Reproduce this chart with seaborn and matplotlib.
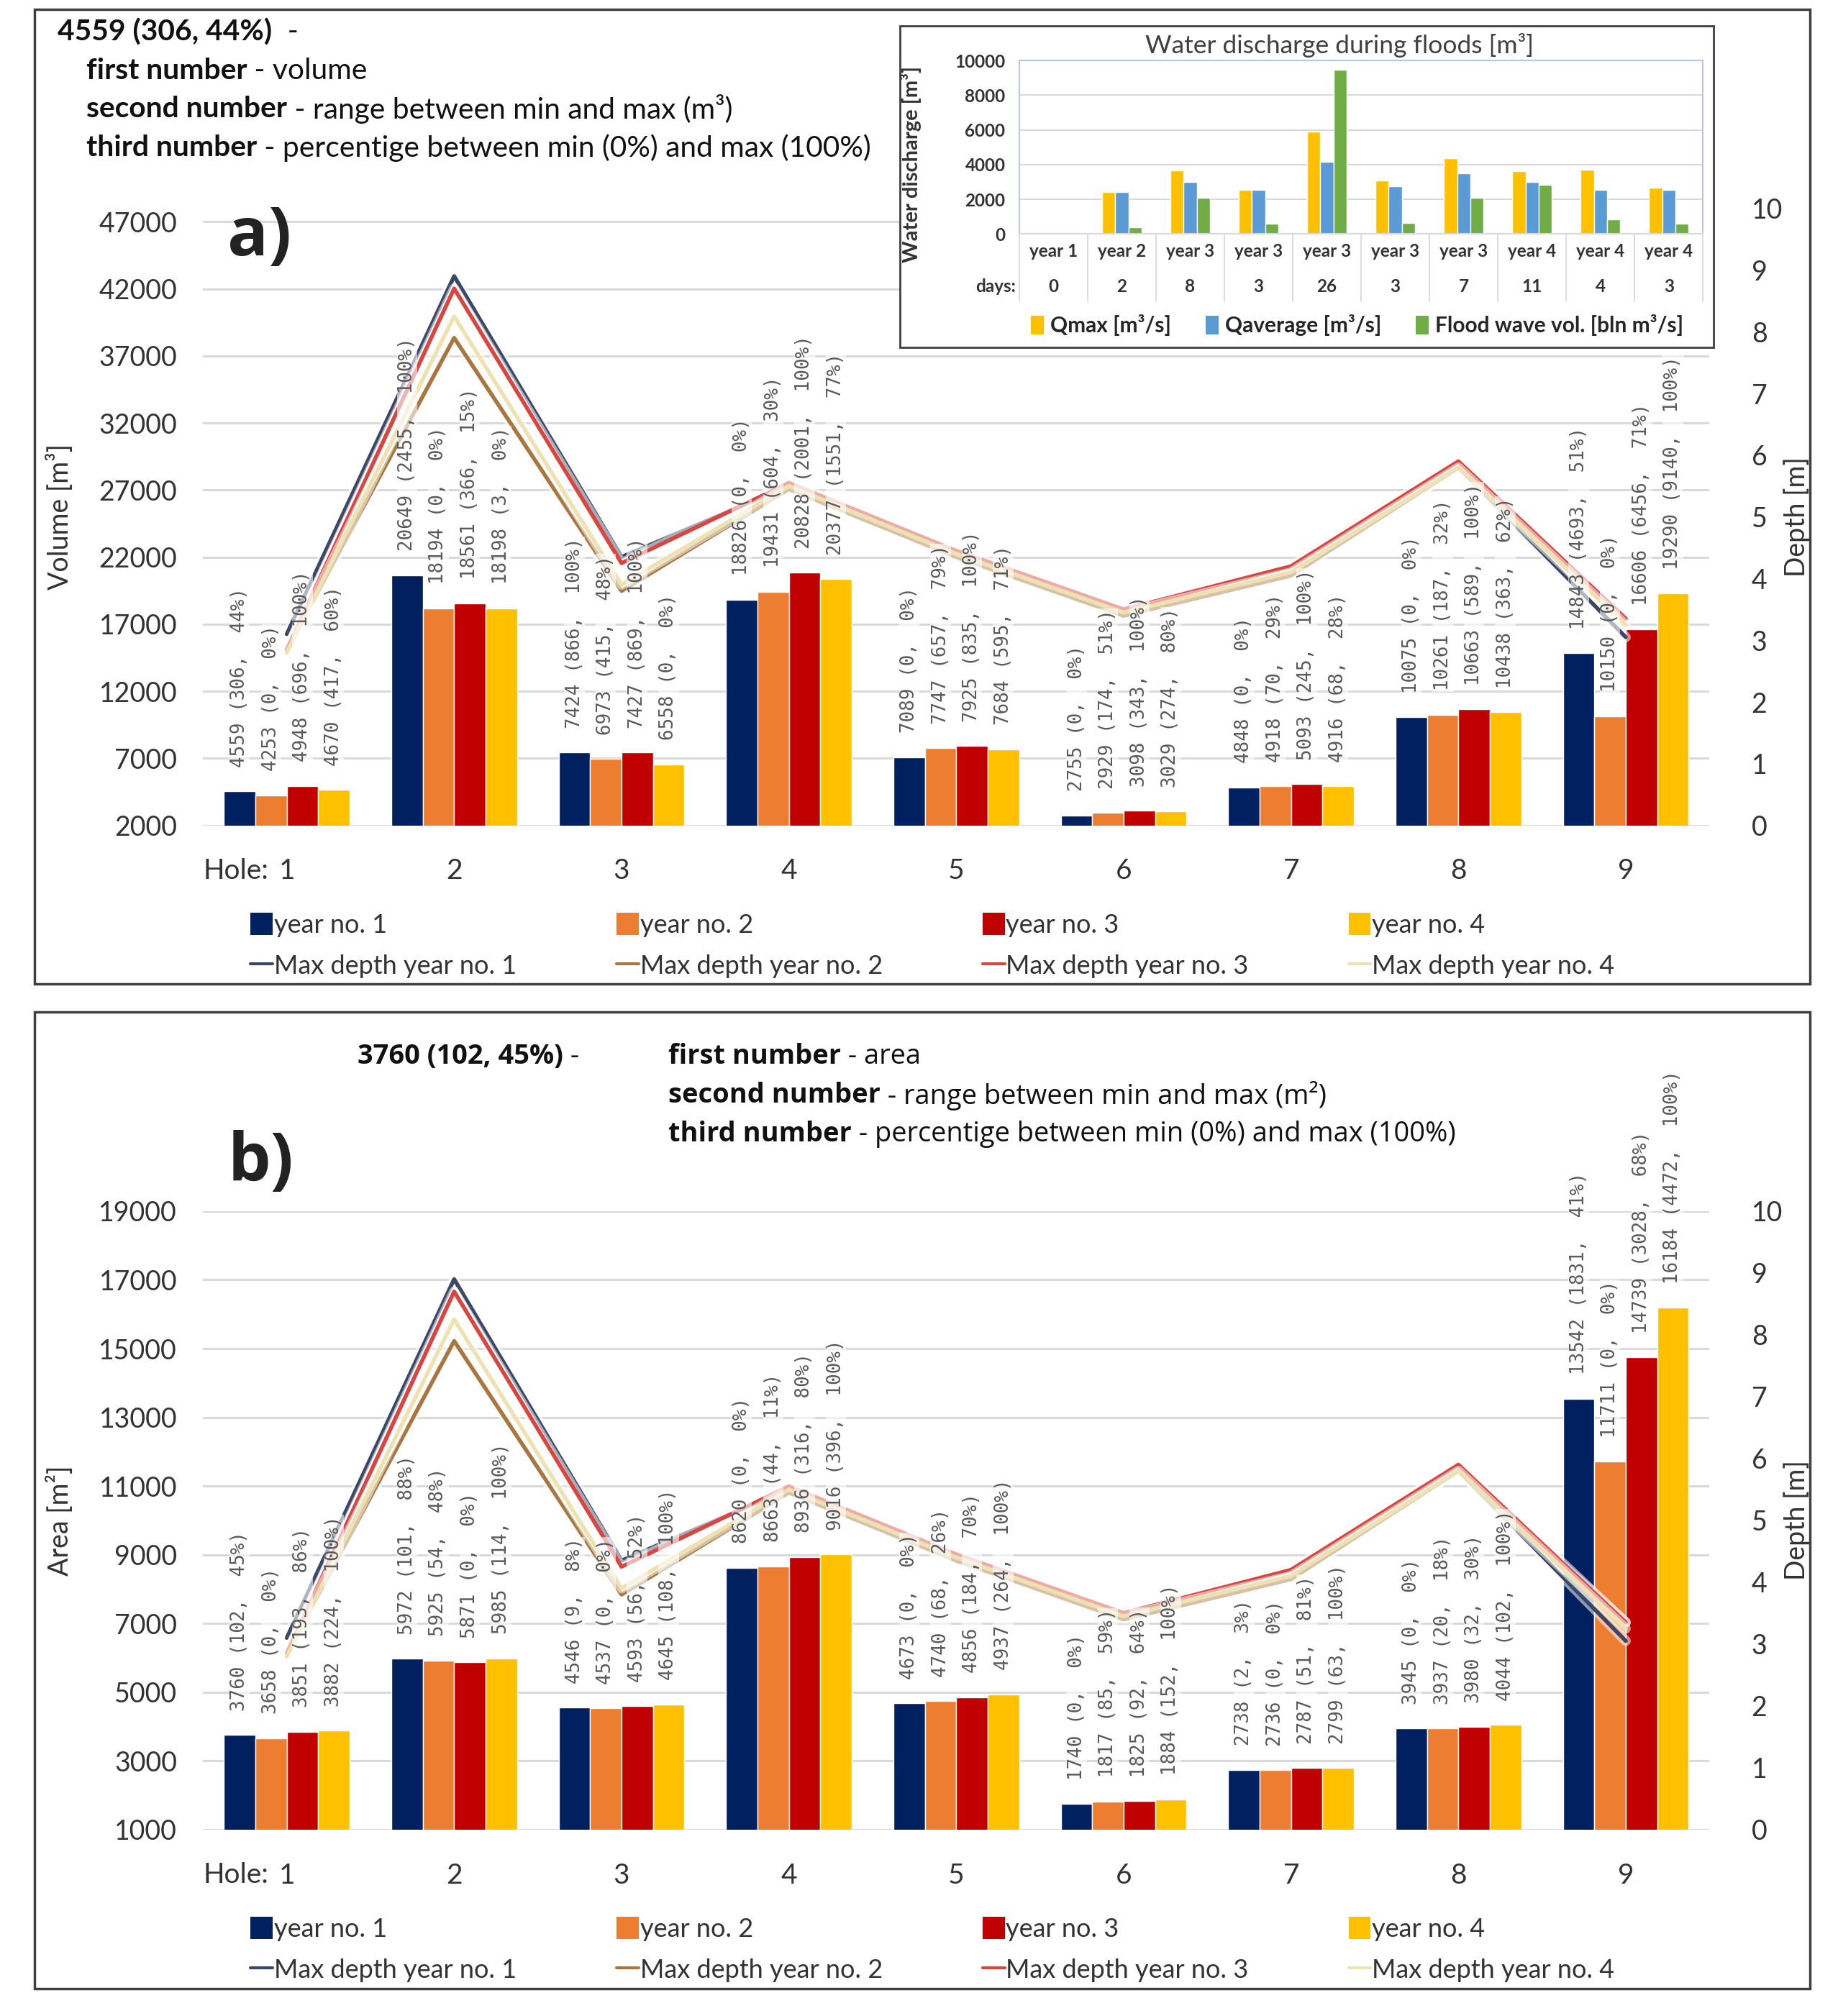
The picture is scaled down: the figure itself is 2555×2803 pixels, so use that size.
import numpy as np
import pandas as pd
import matplotlib
matplotlib.use("Agg")
import matplotlib.pyplot as plt
import matplotlib.patheffects as pe
import matplotlib.transforms as mtransforms
from matplotlib.patches import Rectangle, Patch
from matplotlib.lines import Line2D
import seaborn as sns

# ---------------- data ----------------
holes = ["1", "2", "3", "4", "5", "6", "7", "8", "9"]
years = ["year no. 1", "year no. 2", "year no. 3", "year no. 4"]
depth_names = ["Max depth year no. 1", "Max depth year no. 2",
               "Max depth year no. 3", "Max depth year no. 4"]

vol_y1 = [4559, 20649, 7424, 18826, 7089, 2755, 4848, 10075, 14843]
vol_y2 = [4253, 18194, 6973, 19431, 7747, 2929, 4918, 10261, 10150]
vol_y3 = [4948, 18561, 7427, 20828, 7925, 3098, 5093, 10663, 16606]
vol_y4 = [4670, 18198, 6558, 20377, 7684, 3029, 4916, 10438, 19290]

vol_lab_y1 = ["4559 (306,  44%)", "20649 (2455,  100%)", "7424 (866,  100%)", "18826 (0,  0%)",
              "7089 (0,  0%)", "2755 (0,  0%)", "4848 (0,  0%)", "10075 (0,  0%)", "14843 (4693,  51%)"]
vol_lab_y2 = ["4253 (0,  0%)", "18194 (0,  0%)", "6973 (415,  48%)", "19431 (604,  30%)",
              "7747 (657,  79%)", "2929 (174,  51%)", "4918 (70,  29%)", "10261 (187,  32%)", "10150 (0,  0%)"]
vol_lab_y3 = ["4948 (696,  100%)", "18561 (366,  15%)", "7427 (869,  100%)", "20828 (2001,  100%)",
              "7925 (835,  100%)", "3098 (343,  100%)", "5093 (245,  100%)", "10663 (589,  100%)", "16606 (6456,  71%)"]
vol_lab_y4 = ["4670 (417,  60%)", "18198 (3,  0%)", "6558 (0,  0%)", "20377 (1551,  77%)",
              "7684 (595,  71%)", "3029 (274,  80%)", "4916 (68,  28%)", "10438 (363,  62%)", "19290 (9140,  100%)"]

area_y1 = [3760, 5972, 4546, 8620, 4673, 1740, 2738, 3945, 13542]
area_y2 = [3658, 5925, 4537, 8663, 4740, 1817, 2736, 3937, 11711]
area_y3 = [3851, 5871, 4593, 8936, 4856, 1825, 2787, 3980, 14739]
area_y4 = [3882, 5985, 4645, 9016, 4937, 1884, 2799, 4044, 16184]

area_lab_y1 = ["3760 (102,  45%)", "5972 (101,  88%)", "4546 (9,  8%)", "8620 (0,  0%)",
               "4673 (0,  0%)", "1740 (0,  0%)", "2738 (2,  3%)", "3945 (0,  0%)", "13542 (1831,  41%)"]
area_lab_y2 = ["3658 (0,  0%)", "5925 (54,  48%)", "4537 (0,  0%)", "8663 (44,  11%)",
               "4740 (68,  26%)", "1817 (85,  59%)", "2736 (0,  0%)", "3937 (20,  18%)", "11711 (0,  0%)"]
area_lab_y3 = ["3851 (193,  86%)", "5871 (0,  0%)", "4593 (56,  52%)", "8936 (316,  80%)",
               "4856 (184,  70%)", "1825 (92,  64%)", "2787 (51,  81%)", "3980 (32,  30%)", "14739 (3028,  68%)"]
area_lab_y4 = ["3882 (224,  100%)", "5985 (114,  100%)", "4645 (108,  100%)", "9016 (396,  100%)",
               "4937 (264,  100%)", "1884 (152,  100%)", "2799 (63,  100%)", "4044 (102,  100%)", "16184 (4472,  100%)"]

depth_y1 = [3.1, 8.9, 4.35, 5.5, 4.4, 3.45, 4.1, 5.8, 3.05]
depth_y2 = [2.85, 7.9, 3.8, 5.45, 4.35, 3.4, 4.05, 5.8, 3.35]
depth_y3 = [2.85, 8.7, 4.25, 5.55, 4.45, 3.5, 4.2, 5.9, 3.35]
depth_y4 = [2.8, 8.25, 3.9, 5.5, 4.4, 3.45, 4.1, 5.8, 3.25]

vol_ticks = [2000, 7000, 12000, 17000, 22000, 27000, 32000, 37000, 42000, 47000]
area_ticks = [1000, 3000, 5000, 7000, 9000, 11000, 13000, 15000, 17000, 19000]
depth_ticks = [0, 1, 2, 3, 4, 5, 6, 7, 8, 9, 10]

# inset
flood_years = ["year 1", "year 2", "year 3", "year 3", "year 3", "year 3", "year 3", "year 4", "year 4", "year 4"]
flood_days = ["0", "2", "8", "3", "26", "3", "7", "11", "4", "3"]
qmax = [0, 2400, 3650, 2550, 5900, 3100, 4350, 3600, 3700, 2650]
qavg = [0, 2400, 3000, 2550, 4150, 2750, 3500, 3000, 2550, 2550]
flood_vol = [0, 400, 2100, 600, 9450, 650, 2100, 2850, 850, 600]
flood_series = ["Qmax [m³/s]", "Qaverage [m³/s]", "Flood wave vol. [bln m³/s]"]
inset_ticks = [0, 2000, 4000, 6000, 8000, 10000]

bar_colors = ["#002060", "#ED7D31", "#C00000", "#FFC000"]
line_colors = ["#3A4766", "#A8763E", "#D9463F", "#EEE2B2"]
inset_colors = ["#FFC000", "#5B9BD5", "#70AD47"]

# ---------------- style ----------------
sns.set_style("white")
plt.rcParams["font.family"] = ["Lato", "DejaVu Sans"]
TXT = "#333333"

W, H = 2555, 2803
fig = plt.figure(figsize=(W / 100, H / 100), dpi=100)
DW, DH = 1430.0, 1568.0  # reading grid


def fx(x):
    return x / DW


def fy(y):
    return 1 - y / DH


def panel(rect, vals, labs, ylim, yticks, ylabel):
    ax = fig.add_axes(rect)
    df = pd.DataFrame({
        "hole": np.repeat([holes], 4, axis=0).ravel(),
        "year": np.repeat(years, len(holes)),
        "value": np.concatenate(vals),
    })
    sns.barplot(data=df, x="hole", y="value", hue="year", order=holes, hue_order=years,
                palette=bar_colors, width=0.75, errorbar=None, saturation=1,
                legend=False, ax=ax, zorder=2)
    ax.set_ylim(*ylim)
    ax.set_yticks(yticks)
    ax.set_yticklabels([str(t) for t in yticks])
    ax.yaxis.grid(True, color="#D9D9D9", lw=2.2, zorder=0)
    ax.set_axisbelow(True)
    for s in ax.spines.values():
        s.set_visible(False)
    ax.tick_params(axis="y", length=0, pad=26, labelsize=27, labelcolor=TXT)
    ax.tick_params(axis="x", length=0, pad=33, labelsize=28, labelcolor=TXT)
    ax.set_xlabel("")
    ax.set_ylabel(ylabel, fontsize=27, color=TXT)
    ax.yaxis.set_label_coords(-0.086, 0.5)
    ax.text(-0.5, -0.074, "Hole:", transform=mtransforms.blended_transform_factory(ax.transData, ax.transAxes),
            ha="left", va="center", fontsize=28, color=TXT)

    ax2 = ax.twinx()
    ddf = pd.DataFrame({
        "pos": np.tile(np.arange(len(holes)), 4),
        "series": np.repeat(depth_names, len(holes)),
        "depth": np.concatenate([depth_y1, depth_y2, depth_y3, depth_y4]),
    })
    sns.lineplot(data=ddf, x="pos", y="depth", hue="series", hue_order=depth_names,
                 palette=line_colors, lw=4.0, sort=False, estimator=None, legend=False, ax=ax2)
    for ln in ax2.lines:
        ln.set_path_effects([pe.Stroke(linewidth=10, foreground="white", alpha=0.55), pe.Normal()])
    ax2.set_ylim(0, 10)
    ax2.set_yticks(depth_ticks)
    ax2.set_yticklabels([str(t) for t in depth_ticks])
    ax2.tick_params(axis="y", length=0, pad=42, labelsize=27, labelcolor=TXT)
    ax2.set_ylabel("Depth [m]", fontsize=27, color=TXT)
    ax2.yaxis.set_label_coords(1.049, 0.5)
    ax2.set_xlabel("")
    for s in ax2.spines.values():
        s.set_visible(False)
    ax2.grid(False)
    ax.set_xlim(-0.5, len(holes) - 0.5)

    # data labels on top layer
    for cont, lab in zip(ax.containers, labs):
        for rect_, t in zip(cont.patches, lab):
            x = rect_.get_x() + rect_.get_width() / 2
            y = rect_.get_y() + rect_.get_height()
            ax2.annotate(t, xy=(x, y), xycoords=ax.transData, xytext=(0, 24),
                         textcoords="offset points", rotation=90, ha="center", va="bottom",
                         fontsize=18.6, color="#5A5A5A", family="DejaVu Sans Mono",
                         bbox=dict(boxstyle="square,pad=0.05", fc="white", ec="none", alpha=0.6),
                         zorder=5)
    return ax, ax2


def legend_main(ybase):
    handles = []
    labels = []
    for c, lc, y, d in zip(bar_colors, line_colors, years, depth_names):
        handles += [Patch(facecolor=c, edgecolor="none"), Line2D([0], [0], color=lc, lw=3)]
        labels += [y, d]
    leg = fig.legend(handles, labels, ncol=4, loc="upper left",
                     bbox_to_anchor=(fx(195), fy(ybase)), frameon=False, fontsize=26,
                     handlelength=0.85, handleheight=0.95, handletextpad=0.05,
                     columnspacing=3.85, labelspacing=0.62, borderaxespad=0, borderpad=0)
    for t in leg.get_texts():
        t.set_color(TXT)
    return leg


def header(x, y, bold, rest, size, family):
    t = fig.text(fx(x), fy(y), bold, fontsize=size, fontweight="bold", ha="left", va="center",
                 family=family, color="#111111")
    if rest:
        fig.add_artist(matplotlib.text.Annotation(rest, xy=(1, 0.5), xycoords=t, xytext=(0, 0),
                                                  textcoords="offset points", ha="left", va="center",
                                                  fontsize=size, family=family, color="#111111"))
    return t


# panel frames
for (x0, y0, x1, y1) in [(27, 7, 1408, 765), (27, 787, 1408, 1547)]:
    fig.patches.append(Rectangle((fx(x0), fy(y1)), fx(x1 - x0), (y1 - y0) / DH,
                                 transform=fig.transFigure, fill=False, ec="#3F3F3F", lw=2.5, zorder=6))

# ---------------- panel a ----------------
rect_a = [fx(158), fy(642), fx(1330 - 158), (642 - 162) / DH]
ax_a, ax_a2 = panel(rect_a, [vol_y1, vol_y2, vol_y3, vol_y4],
                    [vol_lab_y1, vol_lab_y2, vol_lab_y3, vol_lab_y4],
                    (2000, 48000), vol_ticks, "Volume [m³]")
legend_main(710)
fig.text(fx(177), fy(185), "a)", fontsize=68, fontweight="bold", ha="left", va="center",
         family="Open Sans", color="#222222")
header(45, 25, "4559 (306, 44%)", "  -", 29.3, "Lato")
header(67, 55, "first number", " - volume", 29.3, "Lato")
header(67, 85, "second number", " - range between min and max (m³)", 29.3, "Lato")
header(67, 115, "third number", " - percentige between min (0%) and max (100%)", 29.3, "Lato")

# ---------------- inset ----------------
fig.patches.append(Rectangle((fx(700), fy(270)), fx(633), 250 / DH, transform=fig.transFigure,
                             fc="white", ec="#3F3F3F", lw=2, zorder=2))
axi = fig.add_axes([fx(793), fy(182), fx(1325 - 793), (182 - 47) / DH], zorder=3)
idf = pd.DataFrame({
    "cat": np.tile(np.arange(len(flood_years)), 3),
    "series": np.repeat(flood_series, len(flood_years)),
    "value": np.concatenate([qmax, qavg, flood_vol]),
})
sns.barplot(data=idf, x="cat", y="value", hue="series", hue_order=flood_series,
            palette=inset_colors, width=0.58, errorbar=None, saturation=1, legend=False, ax=axi)
axi.set_xlim(-0.5, len(flood_years) - 0.5)
axi.set_ylim(0, 10000)
axi.set_yticks(inset_ticks)
axi.set_yticklabels([str(t) for t in inset_ticks], fontweight="bold")
axi.set_xticks(range(len(flood_years)))
axi.set_xticklabels(flood_years, fontweight="bold")
axi.tick_params(axis="both", length=0, labelsize=17.5, labelcolor=TXT)
axi.tick_params(axis="x", pad=9)
axi.tick_params(axis="y", pad=14)
axi.yaxis.grid(True, color="#D9D9D9", lw=1.5)
axi.set_axisbelow(True)
for s in axi.spines.values():
    s.set_color("#B4C7E7")
    s.set_linewidth(1.5)
axi.spines["bottom"].set_color("#D9D9D9")
axi.set_xlabel("")
axi.set_ylabel("Water discharge [m³]", fontsize=21, fontweight="bold", color=TXT)
axi.yaxis.set_label_coords(-0.143, 0.40)
bt = mtransforms.blended_transform_factory(axi.transData, axi.transAxes)
for i, d in enumerate(flood_days):
    axi.text(i, -0.305, d, transform=bt, ha="center", va="center", fontsize=17.5,
             fontweight="bold", color=TXT)
axi.text(-0.55, -0.305, "days:", transform=bt, ha="right", va="center", fontsize=17.5,
         fontweight="bold", color=TXT)
for i in range(len(flood_years) + 1):
    axi.plot([i - 0.5, i - 0.5], [0, -0.39], transform=bt, color="#D9D9D9", lw=1.3, clip_on=False)
fig.text(fx(1042), fy(35), "Water discharge during floods [m³]", fontsize=25.5, ha="center",
         va="center", color="#404040", zorder=4)
ih = [Patch(facecolor=c, edgecolor="none") for c in inset_colors]
ileg = fig.legend(ih, flood_series, ncol=3, loc="center", bbox_to_anchor=(fx(1056), fy(253)),
                  frameon=False, prop=dict(size=21.5, weight="bold"), handlelength=0.6,
                  handleheight=1.0, handletextpad=0.3, columnspacing=1.6, borderaxespad=0)
ileg.set_zorder(4)

# ---------------- panel b ----------------
rect_b = [fx(158), fy(1423), fx(1330 - 158), (1423 - 942) / DH]
ax_b, ax_b2 = panel(rect_b, [area_y1, area_y2, area_y3, area_y4],
                    [area_lab_y1, area_lab_y2, area_lab_y3, area_lab_y4],
                    (1000, 19000), area_ticks, "Area [m²]")
legend_main(1491)
fig.text(fx(177), fy(905), "b)", fontsize=68, fontweight="bold", ha="left", va="center",
         family="Open Sans", color="#222222")
header(278, 822, "3760 (102, 45%)", " -", 27.4, "Open Sans")
header(520, 822, "first number", " - area", 27.4, "Open Sans")
header(520, 852, "second number", " - range between min and max (m²)", 27.4, "Open Sans")
header(520, 882, "third number", " - percentige between min (0%) and max (100%)", 27.4, "Open Sans")

fig.savefig("out.png", dpi=100, facecolor="white")
